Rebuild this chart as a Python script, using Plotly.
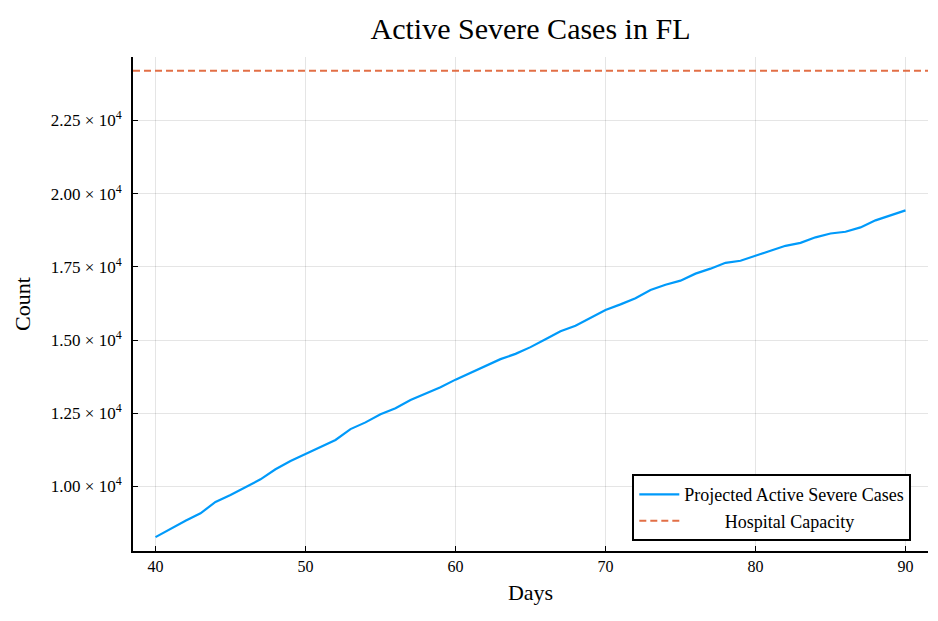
import plotly.graph_objects as go

# Data
days = list(range(40, 91))
projected_severe = [
    8270, 8560, 8830, 9085, 9471, 9710, 9966, 10246, 10587, 10870,
    11110, 11360, 11590, 11960, 12190, 12466, 12670, 12955, 13180, 13390,
    13650, 13886, 14115, 14350, 14530, 14760, 15030, 15300, 15490, 15760,
    16030, 16220, 16430, 16710, 16890, 17030, 17270, 17440, 17640, 17710,
    17870, 18050, 18220, 18320, 18510, 18640, 18700, 18850, 19090, 19260,
    19430,
]
hospital_capacity = 24200

x_range = [38.5, 91.5]
y_range = [7797, 24669]

x_ticks = [40, 50, 60, 70, 80, 90]
y_ticks = [10000, 12500, 15000, 17500, 20000, 22500]
y_tick_labels = [f"{v / 1e4:.2f}\u00a0×\u00a010<sup>4</sup>" for v in y_ticks]

font_family = "Liberation Serif"
blue = "#009AFA"
orange = "#E26F46"

fig = go.Figure()

fig.add_trace(
    go.Scatter(
        x=days,
        y=projected_severe,
        mode="lines",
        name="Projected Active Severe Cases",
        line=dict(color=blue, width=2.2),
    )
)
# hline across the full axis width
fig.add_trace(
    go.Scatter(
        x=x_range,
        y=[hospital_capacity, hospital_capacity],
        mode="lines",
        name="\u00a0" * 9 + "Hospital Capacity",
        line=dict(color=orange, width=2, dash="7px,4px"),
    )
)

axis_common = dict(
    showline=True,
    linecolor="black",
    linewidth=2,
    mirror=False,
    ticks="inside",
    ticklen=5,
    tickcolor="black",
    tickwidth=1,
    showgrid=True,
    gridcolor="rgba(0,0,0,0.1)",
    gridwidth=1,
    zeroline=False,
    tickfont=dict(family=font_family, size=16, color="black"),
    title_font=dict(family=font_family, size=22, color="black"),
)

# page body adds an 8px offset, so the figure is 8px smaller than the window
fig.update_layout(
    width=930,
    height=613,
    margin=dict(l=125, r=10, t=49, b=70),
    paper_bgcolor="white",
    plot_bgcolor="white",
    font=dict(family=font_family, color="black"),
    title=dict(
        text="Active Severe Cases in FL",
        x=0.5,
        xref="paper",
        xanchor="center",
        y=0.967,
        yanchor="middle",
        font=dict(family=font_family, size=30, color="black"),
    ),
    xaxis=dict(
        range=x_range,
        tickvals=x_ticks,
        title=dict(text="Days", standoff=10),
        **axis_common,
    ),
    yaxis=dict(
        range=y_range,
        tickvals=y_ticks,
        ticktext=y_tick_labels,
        ticklabelstandoff=6,
        title=dict(text="Count", standoff=14),
        **(axis_common | dict(tickfont=dict(family=font_family, size=17, color="black"))),
    ),
    legend=dict(
        x=0.979,
        y=0.02,
        xanchor="right",
        yanchor="bottom",
        bgcolor="white",
        bordercolor="black",
        borderwidth=2,
        font=dict(family=font_family, size=18, color="black"),
        tracegroupgap=0,
        itemwidth=40,
    ),
    showlegend=True,
)

fig.write_html("out.html")
